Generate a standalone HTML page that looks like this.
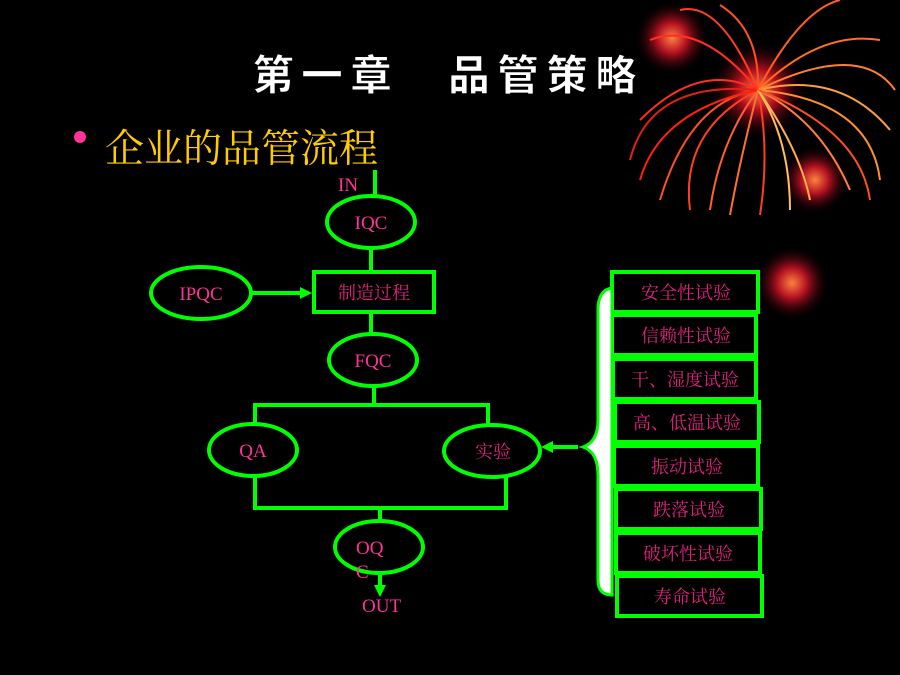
<!DOCTYPE html>
<html><head><meta charset="utf-8"><style>
html,body{margin:0;padding:0;background:#000;}
svg{display:block}
.p{font-family:"Liberation Serif","Noto Serif CJK SC",serif;fill:#ff3399;font-size:19px}
.c{font-family:"Liberation Serif","Noto Serif CJK SC",serif;fill:#e0207f;font-size:18px}
</style></head><body>
<svg width="900" height="675" viewBox="0 0 900 675" xmlns="http://www.w3.org/2000/svg">
<defs>
<radialGradient id="g1"><stop offset="0" stop-color="#ff8040"/><stop offset="0.4" stop-color="#b01020"/><stop offset="1" stop-color="#000" stop-opacity="0"/></radialGradient>
</defs>
<rect width="900" height="675" fill="#000"/>
<circle cx="672" cy="38" r="38" fill="url(#g1)"/>
<circle cx="758" cy="90" r="50" fill="url(#g1)"/>
<circle cx="815" cy="180" r="35" fill="url(#g1)"/>
<circle cx="792" cy="283" r="38" fill="url(#g1)"/>
<g stroke-width="2" fill="none">
<path d="M758 90 Q700 60 640 120" stroke="#ff3020"/>
<path d="M758 90 Q690 100 660 200" stroke="#ff5020"/>
<path d="M758 90 Q720 140 710 210" stroke="#ff6030"/>
<path d="M758 90 Q770 150 760 215" stroke="#ff4020"/>
<path d="M758 90 Q820 120 850 190" stroke="#ff8040"/>
<path d="M758 90 Q840 70 890 130" stroke="#ffa040"/>
<path d="M758 90 Q820 30 880 40" stroke="#ff7020"/>
<path d="M758 90 Q760 30 720 5" stroke="#ff5020"/>
<path d="M758 90 Q700 20 650 40" stroke="#ff3020"/>
<path d="M758 90 Q650 80 630 160" stroke="#e02010"/>
<path d="M758 90 Q680 130 690 210" stroke="#ff4020"/>
<path d="M758 90 Q800 150 810 200" stroke="#ffb050"/>
<path d="M758 90 Q870 100 880 180" stroke="#ff9030"/>
<path d="M758 90 Q800 10 840 0" stroke="#ff6020"/>
<path d="M758 90 Q660 110 640 180" stroke="#ff2010"/>
<path d="M758 90 Q740 160 730 215" stroke="#ff7030"/>
<path d="M758 90 Q790 140 790 210" stroke="#ffc060"/>
<path d="M758 90 Q860 130 870 200" stroke="#ff5020"/>
<path d="M758 90 Q860 40 895 90" stroke="#ff8030"/>
<path d="M758 90 Q720 0 680 10" stroke="#ff4020"/>
</g>
<text x="252" y="90" font-family="'Noto Sans CJK SC',sans-serif" font-weight="900" font-size="42" letter-spacing="7" fill="#fff" stroke="#000" stroke-width="1.5">第一章　品管策略</text>
<circle cx="80" cy="137" r="6" fill="#ff3399"/>
<text x="105" y="162" font-family="'Noto Serif CJK SC',serif" font-size="39" fill="#ffcc00">企业的品管流程</text>
<g stroke="#00ff00" stroke-width="4" fill="none">
<line x1="375" y1="170" x2="375" y2="197"/>
<ellipse cx="371" cy="222" rx="44" ry="26"/>
<line x1="371" y1="248" x2="371" y2="272"/>
<rect x="314" y="272" width="120" height="40"/>
<ellipse cx="201" cy="293" rx="50" ry="26"/>
<line x1="251" y1="293" x2="302" y2="293"/>
<line x1="371" y1="312" x2="371" y2="334"/>
<ellipse cx="373" cy="360" rx="44" ry="26"/>
<line x1="374" y1="386" x2="374" y2="405"/>
<polyline points="255,424 255,405 488,405 488,425"/>
<ellipse cx="253" cy="450" rx="44" ry="26"/>
<ellipse cx="492" cy="451" rx="48" ry="26"/>
<polyline points="255,476 255,508 506,508 506,477"/>
<line x1="380" y1="508" x2="380" y2="521"/>
<ellipse cx="379" cy="547" rx="44" ry="26"/>
<line x1="380" y1="573" x2="380" y2="588"/>
<line x1="578" y1="447" x2="552" y2="447"/>
<rect x="612" y="272" width="146" height="40"/>
<rect x="612" y="315" width="144" height="40"/>
<rect x="613" y="359" width="143" height="40"/>
<rect x="615" y="402" width="144" height="40"/>
<rect x="614" y="446" width="144" height="40"/>
<rect x="616" y="489" width="145" height="40"/>
<rect x="616" y="533" width="144" height="40"/>
<rect x="617" y="576" width="145" height="40"/>
</g>
<path d="M612 288 Q598 290 598 310 L598 420 Q598 442 583 447 Q598 452 598 475 L598 580 Q598 595 612 595 Z" fill="#fff" stroke="#00ff00" stroke-width="3"/>
<polygon points="312,293 300,287 300,299" fill="#00ff00"/>
<polygon points="541,447 553,441 553,453" fill="#00ff00"/>
<polygon points="380,597 374,585 386,585" fill="#00ff00"/>
<text class="p" x="338" y="191">IN</text>
<text class="p" x="371" y="229" text-anchor="middle">IQC</text>
<text class="p" x="201" y="300" text-anchor="middle">IPQC</text>
<text class="c" x="374" y="299" text-anchor="middle">制造过程</text>
<text class="p" x="373" y="367" text-anchor="middle">FQC</text>
<text class="p" x="253" y="457" text-anchor="middle">QA</text>
<text class="c" x="493" y="458" text-anchor="middle">实验</text>
<text class="p" x="356" y="554">OQ</text>
<text class="p" x="356" y="578">C</text>
<text class="p" x="362" y="612">OUT</text>
<g class="c" text-anchor="middle">
<text x="686" y="299">安全性试验</text>
<text x="686" y="342">信赖性试验</text>
<text x="685" y="386">干、湿度试验</text>
<text x="687" y="429">高、低温试验</text>
<text x="687" y="473">振动试验</text>
<text x="689" y="516">跌落试验</text>
<text x="688" y="560">破坏性试验</text>
<text x="690" y="603">寿命试验</text>
</g>
</svg>
</body></html>
